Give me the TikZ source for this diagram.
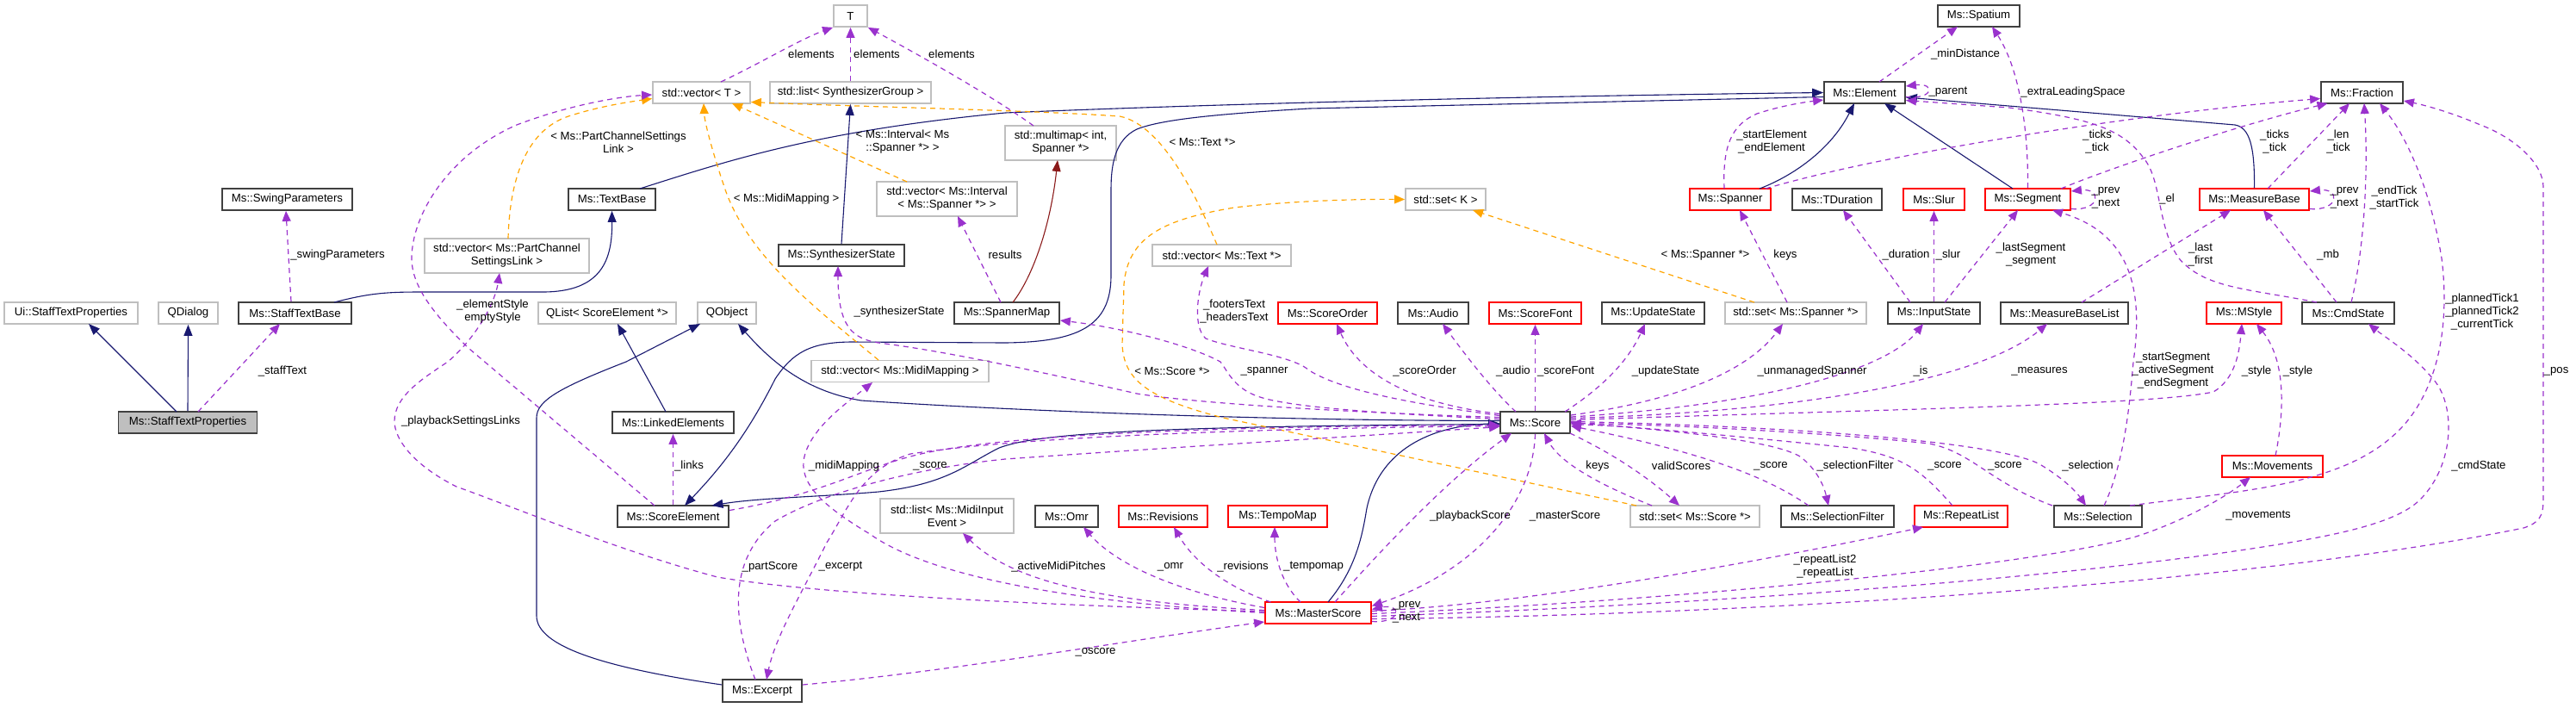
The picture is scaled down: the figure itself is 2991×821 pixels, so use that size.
\documentclass[tikz,border=0pt]{standalone}
\usepackage{fontspec}
\setmainfont{Liberation Sans}
\usetikzlibrary{arrows.meta,calc}
\newcommand\fsz{\fontsize{6.6}{7.5}\selectfont}
\definecolor{navy}{HTML}{191970}
\definecolor{purp}{HTML}{9A32CD}
\definecolor{orng}{HTML}{FFA500}
\definecolor{dred}{HTML}{8B1A1A}
\definecolor{gbord}{HTML}{BFBFBF}
\definecolor{rbord}{HTML}{FF0000}
\definecolor{kbord}{HTML}{404040}
\definecolor{gfill}{HTML}{BFBFBF}
\tikzset{
 box/.style={rectangle, inner sep=0pt, minimum height=12.5pt, align=center, font=\fsz, line width=0.9pt},
 kb/.style={box, draw=kbord},
 rb/.style={box, draw=rbord},
 gb/.style={box, draw=gbord},
 tall/.style={minimum height=20pt},
 lbl/.style={inner sep=0pt, align=center, font=\fsz},
 inhe/.style={draw=navy, line width=0.55pt, -{Triangle[length=6.5pt,width=5pt]}},
 prive/.style={draw=dred, line width=0.55pt, -{Triangle[length=6.5pt,width=5pt]}},
 usee/.style={draw=purp, line width=0.6pt, dash pattern=on 3pt off 2.5pt, -{Triangle[length=6pt,width=5pt]}},
 tmpl/.style={draw=orng, line width=0.6pt, dash pattern=on 3pt off 2.5pt, -{Triangle[length=6pt,width=5pt]}}
}
\begin{document}
\begin{tikzpicture}[x=0.5pt,y=-0.5pt]
\useasboundingbox (0,0) rectangle (2991,821);
\fill[white] (0,0) rectangle (2991,821);
% nodes
\node[kb, fill=gfill, minimum width=80.5pt] (stp) at (218,490.5) {Ms::StaffTextProperties};
\node[gb, minimum width=77.5pt] (uistp) at (82.5,363.5) {Ui::StaffTextProperties};
\node[gb, minimum width=34.5pt] (qdialog) at (218.5,363.5) {QDialog};
\node[kb, minimum width=65.5pt] (stb) at (342.5,363.5) {Ms::StaffTextBase};
\node[kb, minimum width=75.5pt] (swing) at (333.5,231.5) {Ms::SwingParameters};
\node[kb, minimum width=50.5pt] (textbase) at (710.5,231.5) {Ms::TextBase};
\node[gb, tall, minimum width=95.5pt] (vecpcsl) at (588.5,297) {std::vector< Ms::PartChannel\\SettingsLink >};
\node[gb, minimum width=56.5pt] (vect) at (814.5,107.5) {std::vector< T >};
\node[gb, minimum width=19.5pt] (tT) at (987.5,18.5) {T};
\node[gb, minimum width=93.5pt] (listsg) at (987.5,107.5) {std::list< SynthesizerGroup >};
\node[gb, minimum width=80pt] (qlist) at (705,363.5) {QList< ScoreElement *>};
\node[gb, minimum width=34pt] (qobject) at (844,363.5) {QObject};
\node[kb, minimum width=73pt] (synth) at (977,296.5) {Ms::SynthesizerState};
\node[gb, tall, minimum width=64.5pt] (multimap) at (1231.5,166) {std::multimap< int,\\Spanner *>};
\node[gb, tall, minimum width=81.5pt] (vecint) at (1099.5,231) {std::vector< Ms::Interval\\< Ms::Spanner *> >};
\node[kb, minimum width=61pt] (spannermap) at (1169,363.5) {Ms::SpannerMap};
\node[gb, minimum width=80.5pt] (vectext) at (1418.5,296.5) {std::vector< Ms::Text *>};
\node[rb, minimum width=57.5pt] (scoreorder) at (1541.5,363.5) {Ms::ScoreOrder};
\node[gb, minimum width=46.5pt] (setk) at (1678.5,231.5) {std::set< K >};
\node[kb, minimum width=41pt] (audio) at (1664,363.5) {Ms::Audio};
\node[rb, minimum width=53.5pt] (scorefont) at (1782.5,363.5) {Ms::ScoreFont};
\node[kb, minimum width=59.5pt] (updatestate) at (1919.5,363.5) {Ms::UpdateState};
\node[rb, minimum width=47pt] (spanner) at (2009,231.5) {Ms::Spanner};
\node[kb, minimum width=47.5pt] (spatium) at (2297.5,18.5) {Ms::Spatium};
\node[kb, minimum width=47pt] (element) at (2165,107.5) {Ms::Element};
\node[kb, minimum width=52pt] (tduration) at (2133,231.5) {Ms::TDuration};
\node[rb, minimum width=35.5pt] (slur) at (2245.5,231.5) {Ms::Slur};
\node[rb, minimum width=49.5pt] (segment) at (2354.5,231.5) {Ms::Segment};
\node[gb, minimum width=82pt] (setspanner) at (2085,363.5) {std::set< Ms::Spanner *>};
\node[kb, minimum width=53.5pt] (inputstate) at (2245.5,363.5) {Ms::InputState};
\node[kb, minimum width=74pt] (mblist) at (2397,363.5) {Ms::MeasureBaseList};
\node[kb, minimum width=47.5pt] (fraction) at (2742.5,107.5) {Ms::Fraction};
\node[rb, minimum width=63.5pt] (measurebase) at (2617.5,231.5) {Ms::MeasureBase};
\node[rb, minimum width=43.5pt] (mstyle) at (2605.5,363.5) {Ms::MStyle};
\node[kb, minimum width=53.5pt] (cmdstate) at (2726.5,363.5) {Ms::CmdState};
\node[kb, minimum width=70.5pt] (linked) at (781.5,490.5) {Ms::LinkedElements};
\node[kb, minimum width=64.5pt] (scoreelement) at (781.5,599.5) {Ms::ScoreElement};
\node[kb, minimum width=46pt, minimum height=13pt] (excerpt) at (885,802) {Ms::Excerpt};
\node[gb, minimum width=103pt] (vecmidi) at (1045,431) {std::vector< Ms::MidiMapping >};
\node[gb, tall, minimum width=77.5pt] (listmidi) at (1099.5,599) {std::list< Ms::MidiInput\\Event >};
\node[kb, minimum width=36.5pt] (omr) at (1238.5,599.5) {Ms::Omr};
\node[rb, minimum width=51.5pt] (revisions) at (1350.5,599.5) {Ms::Revisions};
\node[rb, minimum width=57.5pt] (tempomap) at (1483.5,599.5) {Ms::TempoMap};
\node[rb, minimum width=61.5pt] (masterscore) at (1530.5,711.5) {Ms::MasterScore};
\node[kb, minimum width=40.5pt] (score) at (1782.5,490.5) {Ms::Score};
\node[gb, minimum width=75pt] (setscore) at (1968,599.5) {std::set< Ms::Score *>};
\node[kb, minimum width=65.5pt] (selfilter) at (2133.5,599.5) {Ms::SelectionFilter};
\node[rb, minimum width=54pt] (repeatlist) at (2277,599.5) {Ms::RepeatList};
\node[kb, minimum width=51pt] (selection) at (2436,599.5) {Ms::Selection};
\node[rb, minimum width=58.5pt] (movements) at (2638.5,541.5) {Ms::Movements};
% inheritance
\draw[inhe] ($(stp)+(-13,-12.5)$) -- ($(uistp)+(20.5,12.5)$);
\draw[inhe] (stp.north) -- (qdialog.south);
\draw[inhe] ($(stb)+(45.5,-12.5)$) .. controls (430,340) and (450,339) .. (490,339) -- (630,339) .. controls (700,339) and (711,300) .. (textbase.south);
\draw[inhe] ($(textbase)+(32.5,-12.5)$) .. controls (850,185) and (950,152) .. (1167,131) .. controls (1500,117) and (1900,110) .. (element.west);
\draw[inhe] ($(element.west)+(0,5)$) -- (1520,126) .. controls (1420,132) and (1350,138) .. (1320,150) .. controls (1295,162) and (1290,190) .. (1290,220) -- (1290,320) .. controls (1290,380) and (1250,397) .. (1167,398) -- (990,397) .. controls (940,397) and (920,410) .. (900,440) .. controls (870,500) and (840,540) .. ($(scoreelement)+(13.5,-12.5)$);
\draw[inhe] (synth.north) -- (listsg.south);
\draw[prive] ($(spannermap)+(7,-12.5)$) .. controls (1200,320) and (1220,260) .. ($(multimap)+(-3.5,20)$);
\draw[inhe] ($(linked)+(-8.5,-12.5)$) -- ($(qlist)+(12,12.5)$);
\draw[inhe] ($(score.west)+(0,-2)$) .. controls (1400,488) and (1100,472) .. (1000,465) .. controls (940,455) and (900,425) .. ($(qobject)+(13,12.5)$);
\draw[inhe] ($(score.west)+(0,2)$) .. controls (1300,495) and (1200,505) .. (1160,520) .. controls (1120,540) and (1100,562) .. (1020,571) .. controls (950,577) and (880,578) .. ($(scoreelement)+(45,-12.5)$);
\draw[inhe] ($(excerpt.west)+(0,-7)$) .. controls (700,775) and (623,750) .. (623,715) -- (623,485) .. controls (623,465) and (650,450) .. (727,420) -- ($(qobject)+(-31,12.5)$);
\draw[inhe] ($(masterscore)+(11.5,-12.5)$) .. controls (1575,660) and (1582,620) .. (1587,590) .. controls (1600,530) and (1650,495) .. ($(score.west)+(0,1)$);
\draw[inhe] ($(spanner)+(34,-12.5)$) .. controls (2080,205) and (2125,175) .. ($(element)+(-12,12.5)$);
\draw[inhe] ($(segment)+(-17.5,-12.5)$) -- ($(element)+(23,12.5)$);
\draw[inhe] (measurebase.north) .. controls (2618,170) and (2612,148) .. (2595,145) -- ($(element.east)+(0,5.5)$);
% templates
\draw[tmpl] ($(vecpcsl)+(1.5,-20)$) .. controls (592,200) and (615,150) .. (660,135) .. controls (700,122) and (740,117) .. ($(vect.west)+(0,7)$);
\draw[tmpl] ($(vecmidi)+(-25,-13)$) .. controls (950,360) and (870,300) .. (842,220) .. controls (825,170) and (818,140) .. ($(vect)+(2.5,12.5)$);
\draw[tmpl] ($(vecint)+(-46.5,-20)$) -- ($(vect)+(35.5,12.5)$);
\draw[tmpl] ($(vectext)+(-5.5,-12.5)$) .. controls (1390,230) and (1350,145) .. (1300,135) .. controls (1200,128) and (1000,124) .. ($(vect.east)+(0,11)$);
\draw[tmpl] ($(setspanner)+(-48,-12.5)$) -- ($(setk)+(31.5,12.5)$);
\draw[tmpl] ($(setscore)+(-68,-12.5)$) -- (1420,485) .. controls (1330,462) and (1305,440) .. (1303,400) -- (1305,330) .. controls (1310,275) and (1350,255) .. (1433,241) .. controls (1500,233) and (1580,231) .. (setk.west);
% usage
\draw[usee] ($(stp)+(12,-12.5)$) -- ($(stb)+(-17.5,12.5)$);
\draw[usee] ($(stb.north)+(-4.5,0)$) -- ($(swing.south)+(-1.5,0)$);
\draw[usee] ($(vect)+(22.5,-12.5)$) .. controls (880,75) and (930,45) .. (tT.south west);
\draw[usee] (listsg.north) -- (tT.south);
\draw[usee] ($(multimap)+(-31.5,-20)$) .. controls (1150,110) and (1060,60) .. (tT.south east);
\draw[usee] ($(scoreelement)+(-21.5,-12.5)$) -- (545,405) .. controls (500,362) and (478,330) .. (478,300) .. controls (478,250) and (520,180) .. (600,145) .. controls (660,122) and (720,112) .. ($(vect.west)+(0,2.5)$);
\draw[usee] ($(masterscore.west)+(0,-1.5)$) .. controls (1200,702) and (950,690) .. (833,670) .. controls (720,640) and (600,590) .. (530,565) .. controls (480,540) and (458,510) .. (458,489) .. controls (458,460) and (490,440) .. (520,420) .. controls (555,390) and (575,350) .. ($(vecpcsl)+(-8.5,20)$);
\draw[usee] (scoreelement.north) -- (linked.south);
\draw[usee] ($(spannermap)+(-7,-12.5)$) -- ($(vecint)+(12.5,20)$);
\draw[usee] ($(spanner)+(-7,-12.5)$) .. controls (2000,170) and (2010,145) .. (2040,132) .. controls (2070,122) and (2100,118) .. ($(element.west)+(0,8.5)$);
\draw[usee] ($(spanner)+(41,-12.5)$) .. controls (2200,175) and (2500,130) .. ($(fraction.west)+(0,7)$);
\draw[usee] ($(segment)+(38.5,-12.5)$) .. controls (2450,195) and (2600,145) .. ($(fraction)+(-40,12.5)$);
\draw[usee] (segment.north) .. controls (2355,150) and (2345,80) .. ($(spatium)+(15.5,12.5)$);
\draw[usee] ($(element)+(17,-12.5)$) -- ($(spatium)+(-24.5,12.5)$);
\draw[usee] ($(element.east)+(0,5)$) .. controls (2245,116) and (2248,96) .. ($(element.east)+(0,-7.5)$);
\draw[usee] ($(segment.east)+(0,11)$) .. controls (2440,245) and (2440,218) .. ($(segment.east)+(0,-9.5)$);
\draw[usee] ($(measurebase.east)+(0,11)$) .. controls (2717,245) and (2717,218) .. ($(measurebase.east)+(0,-9.5)$);
\draw[usee] ($(measurebase)+(15.5,-12.5)$) -- ($(fraction)+(-14.5,12.5)$);
\draw[usee] ($(cmdstate)+(3.5,-12.5)$) .. controls (2745,290) and (2750,200) .. ($(fraction)+(2.5,12.5)$);
\draw[usee] ($(cmdstate)+(-13.5,-12.5)$) -- ($(measurebase)+(10.5,12.5)$);
\draw[usee] ($(cmdstate)+(-36.5,-12.5)$) .. controls (2610,335) and (2560,335) .. (2530,300) .. controls (2505,265) and (2510,210) .. (2490,185) .. controls (2465,150) and (2430,138) .. (2333,125) -- ($(element.east)+(0,9)$);
\draw[usee] ($(mblist)+(20,-12.5)$) -- ($(measurebase)+(-27.5,12.5)$);
\draw[usee] ($(inputstate)+(12.5,-12.5)$) -- ($(segment)+(-11.5,12.5)$);
\draw[usee] (inputstate.north) -- (slur.south);
\draw[usee] ($(inputstate)+(-27.5,-12.5)$) -- ($(tduration)+(7,12.5)$);
\draw[usee] ($(setspanner)+(-10,-12.5)$) -- ($(spanner)+(11,12.5)$);
\draw[usee] ($(selection)+(7,-12.5)$) .. controls (2465,540) and (2472,480) .. (2477,420) .. controls (2490,330) and (2470,270) .. ($(segment)+(28.5,12.5)$);
\draw[usee] ($(movements)+(3.5,-12.5)$) .. controls (2652,480) and (2655,420) .. ($(mstyle)+(14.5,12.5)$);
\draw[usee] ($(selection)+(37,-12.5)$) .. controls (2600,570) and (2720,565) .. (2785,500) .. controls (2830,455) and (2845,380) .. (2835,300) .. controls (2822,220) and (2795,160) .. ($(fraction)+(20.5,12.5)$);
\draw[usee] ($(masterscore.east)+(0,4)$) .. controls (1900,705) and (2300,680) .. (2573,643) .. controls (2700,625) and (2780,610) .. (2810,580) .. controls (2850,540) and (2852,470) .. (2825,440) .. controls (2800,410) and (2770,392) .. ($(cmdstate)+(23.5,12.5)$);
\draw[usee] ($(masterscore.east)+(0,1)$) .. controls (1900,700) and (2350,660) .. (2480,623) .. controls (2530,607) and (2580,580) .. ($(movements)+(-25.5,12.5)$);
\draw[usee] ($(masterscore.east)+(0,7)$) .. controls (2000,715) and (2600,680) .. (2930,613) .. controls (2948,607) and (2953,600) .. (2953,580) -- (2953,217) .. controls (2953,190) and (2920,160) .. (2880,145) .. controls (2840,128) and (2810,121) .. ($(fraction.east)+(0,9.5)$);
\draw[usee] ($(masterscore.east)+(0,-2)$) .. controls (1800,700) and (2100,640) .. ($(repeatlist)+(-44,12.5)$);
\draw[usee] ($(masterscore)+(-55,-12.5)$) .. controls (1420,680) and (1385,650) .. ($(revisions)+(12.5,12.5)$);
\draw[usee] ($(masterscore.west)+(0,-6)$) .. controls (1380,690) and (1300,660) .. ($(omr)+(19.5,12.5)$);
\draw[usee] ($(masterscore.west)+(0,-3)$) .. controls (1300,700) and (1180,680) .. ($(listmidi)+(18.5,20)$);
\draw[usee] ($(masterscore)+(-20.5,-12.5)$) .. controls (1490,680) and (1480,650) .. ($(tempomap)+(-3.5,12.5)$);
\draw[usee] (masterscore.west) .. controls (1250,700) and (1080,670) .. (1010,620) .. controls (960,590) and (930,565) .. (933,535) .. controls (938,500) and (980,470) .. ($(vecmidi)+(-32,13)$);
\draw[usee] ($(excerpt.east)+(0,-7)$) .. controls (1100,780) and (1300,745) .. ($(masterscore.west)+(0,10.5)$);
\draw[usee] ($(scoreelement.east)+(0,-7)$) .. controls (950,575) and (1000,545) .. (1057,530) .. controls (1150,505) and (1400,495) .. ($(score.west)+(0,3)$);
\draw[usee] ($(excerpt)+(-8,-13)$) .. controls (850,720) and (845,650) .. (900,605) .. controls (950,575) and (1050,545) .. (1167,533) .. controls (1350,520) and (1600,505) .. ($(score.west)+(0,5)$);
\draw[usee] ($(score.west)+(0,4)$) .. controls (1500,497) and (1200,505) .. (1057,527) .. controls (1000,545) and (985,590) .. (960,630) .. controls (930,690) and (900,740) .. ($(excerpt)+(5,-13)$);
\draw[usee] ($(score.west)+(0,-6)$) .. controls (1600,480) and (1400,470) .. (1320,457) .. controls (1200,430) and (1100,408) .. (1020,398) .. controls (990,393) and (973,380) .. ($(synth)+(-4,12.5)$);
\draw[usee] ($(score.west)+(0,-4)$) .. controls (1650,482) and (1500,475) .. (1460,460) .. controls (1432,450) and (1425,430) .. (1417,420) .. controls (1380,400) and (1300,380) .. ($(spannermap.east)+(0,8.5)$);
\draw[usee] ($(score.west)+(0,-8)$) .. controls (1650,470) and (1560,455) .. (1520,430) .. controls (1500,412) and (1430,405) .. (1400,393) .. controls (1385,380) and (1390,340) .. ($(vectext)+(-15.5,12.5)$);
\draw[usee] ($(score.west)+(0,-10)$) .. controls (1650,470) and (1580,440) .. ($(scoreorder)+(10.5,12.5)$);
\draw[usee] ($(score)+(-22.5,-12.5)$) .. controls (1730,450) and (1700,410) .. ($(audio)+(11,12.5)$);
\draw[usee] (score.north) -- (scorefont.south);
\draw[usee] ($(score)+(34.5,-12.5)$) .. controls (1860,450) and (1890,420) .. ($(updatestate)+(-9.5,12.5)$);
\draw[usee] ($(score.east)+(0,-8.5)$) .. controls (1950,465) and (2030,430) .. ($(setspanner)+(-15,12.5)$);
\draw[usee] ($(score.east)+(0,-6.5)$) .. controls (2050,470) and (2190,430) .. ($(inputstate)+(-12.5,12.5)$);
\draw[usee] ($(score.east)+(0,-5)$) .. controls (2100,478) and (2300,440) .. ($(mblist)+(-20,12.5)$);
\draw[usee] ($(score.east)+(0,-3)$) .. controls (2200,475) and (2500,470) .. (2570,455) .. controls (2595,440) and (2600,410) .. ($(mstyle)+(-2.5,12.5)$);
\draw[usee] ($(score)+(40.5,12.5)$) .. controls (1880,530) and (1920,560) .. ($(setscore)+(-18,-12.5)$);
\draw[usee] ($(setscore)+(-50,-12.5)$) .. controls (1850,560) and (1810,535) .. ($(score)+(10.5,12.5)$);
\draw[usee] ($(masterscore)+(19.5,-12.5)$) .. controls (1620,620) and (1690,550) .. ($(score)+(-27.5,12.5)$);
\draw[usee] (score.south) .. controls (1780,580) and (1720,660) .. ($(masterscore.east)+(0,-8)$);
\draw[usee] ($(masterscore.east)+(0,10)$) .. controls (1628,724) and (1628,700) .. ($(masterscore.east)+(0,-4)$);
\draw[usee] (score.east) .. controls (1950,500) and (2060,512) .. (2090,530) .. controls (2110,545) and (2118,565) .. ($(selfilter)+(-10.5,-12.5)$);
\draw[usee] ($(selfilter)+(-33.5,-12.5)$) .. controls (2060,560) and (2000,530) .. ($(score.east)+(0,4)$);
\draw[usee] ($(repeatlist)+(-10,-12.5)$) .. controls (2230,545) and (2210,530) .. (2150,520) .. controls (2000,505) and (1900,495) .. ($(score.east)+(0,2)$);
\draw[usee] ($(selection)+(-53,-12.5)$) .. controls (2310,560) and (2290,525) .. (2240,515) .. controls (2100,500) and (1900,492) .. ($(score.east)+(0,1)$);
\draw[usee] ($(score.east)+(0,-1)$) .. controls (2100,495) and (2330,515) .. (2370,540) .. controls (2395,555) and (2410,570) .. ($(selection)+(-14,-12.5)$);
% labels
\node[lbl] (l01) at (328,431) {\_staffText};
\node[lbl] (l02) at (392,296) {\_swingParameters};
\node[lbl] (l03) at (942,63) {elements};
\node[lbl] (l04) at (1018,63) {elements};
\node[lbl] (l05) at (1105,63) {elements};
\node[lbl] (l06) at (718,165) {< Ms::PartChannelSettings\\Link >};
\node[lbl] (l07) at (572,362) {\_elementStyle\\emptyStyle};
\node[lbl] (l08) at (913,231) {< Ms::MidiMapping >};
\node[lbl] (l09) at (1048,165) {< Ms::Interval< Ms\\::Spanner *> >};
\node[lbl] (l10) at (1167,296) {results};
\node[lbl] (l11) at (1396,165) {< Ms::Text *>};
\node[lbl] (l12) at (1433,362) {\_footersText\\\_headersText};
\node[lbl] (l13) at (1044,362) {\_synthesizerState};
\node[lbl] (l14) at (1980,296) {< Ms::Spanner *>};
\node[lbl] (l15) at (2282,63) {\_minDistance};
\node[lbl] (l16) at (2262,107) {\_parent};
\node[lbl] (l17) at (2407,107) {\_extraLeadingSpace};
\node[lbl] (l18) at (2057,165) {\_startElement\\\_endElement};
\node[lbl] (l19) at (2445,230) {\_prev\\\_next};
\node[lbl] (l20) at (2435,165) {\_ticks\\\_tick};
\node[lbl] (l21) at (2073,296) {keys};
\node[lbl] (l22) at (2213,296) {\_duration};
\node[lbl] (l23) at (2262,296) {\_slur};
\node[lbl] (l24) at (2358,296) {\_lastSegment\\\_segment};
\node[lbl] (l25) at (2641,165) {\_ticks\\\_tick};
\node[lbl] (l26) at (2715,165) {\_len\\\_tick};
\node[lbl] (l27) at (2516,231) {\_el};
\node[lbl] (l28) at (2722,230) {\_prev\\\_next};
\node[lbl] (l29) at (2780,230) {\_endTick\\\_startTick};
\node[lbl] (l30) at (2555,296) {\_last\\\_first};
\node[lbl] (l31) at (2703,296) {\_mb};
\node[lbl] (l32) at (2882,362) {\_plannedTick1\\\_plannedTick2\\\_currentTick};
\node[lbl] (l33) at (535,489) {\_playbackSettingsLinks};
\node[lbl] (l34) at (800,541) {\_links};
\node[lbl] (l35) at (894,658) {\_partScore};
\node[lbl] (l36) at (976,658) {\_excerpt};
\node[lbl] (l37) at (980,541) {\_midiMapping};
\node[lbl] (l38) at (1080,541) {\_score};
\node[lbl] (l39) at (1229,658) {\_activeMidiPitches};
\node[lbl] (l40) at (1359,658) {\_omr};
\node[lbl] (l41) at (1443,658) {\_revisions};
\node[lbl] (l42) at (1525,658) {\_tempomap};
\node[lbl] (l43) at (1272,757) {\_oscore};
\node[lbl] (l44) at (1361,431) {< Ms::Score *>};
\node[lbl] (l45) at (1468,431) {\_spanner};
\node[lbl] (l46) at (1654,431) {\_scoreOrder};
\node[lbl] (l47) at (1757,431) {\_audio};
\node[lbl] (l48) at (1818,431) {\_scoreFont};
\node[lbl] (l49) at (1934,431) {\_updateState};
\node[lbl] (l50) at (1855,541) {keys};
\node[lbl] (l51) at (1952,541) {validScores};
\node[lbl] (l52) at (1707,599) {\_playbackScore};
\node[lbl] (l53) at (1817,599) {\_masterScore};
\node[lbl] (l54) at (1633,711) {\_prev\\\_next};
\node[lbl] (l55) at (2104,431) {\_unmanagedSpanner};
\node[lbl] (l56) at (2230,431) {\_is};
\node[lbl] (l57) at (2368,431) {\_measures};
\node[lbl] (l58) at (2056,541) {\_score};
\node[lbl] (l59) at (2154,541) {\_selectionFilter};
\node[lbl] (l60) at (2258,541) {\_score};
\node[lbl] (l61) at (2328,541) {\_score};
\node[lbl] (l62) at (2424,541) {\_selection};
\node[lbl] (l63) at (2119,658) {\_repeatList2\\\_repeatList};
\node[lbl] (l64) at (2523,430) {\_startSegment\\\_activeSegment\\\_endSegment};
\node[lbl] (l65) at (2620,431) {\_style};
\node[lbl] (l66) at (2668,431) {\_style};
\node[lbl] (l67) at (2878,541) {\_cmdState};
\node[lbl] (l68) at (2622,599) {\_movements};
\node[lbl] (l69) at (2968,431) {\_pos};
\end{tikzpicture}
\end{document}
